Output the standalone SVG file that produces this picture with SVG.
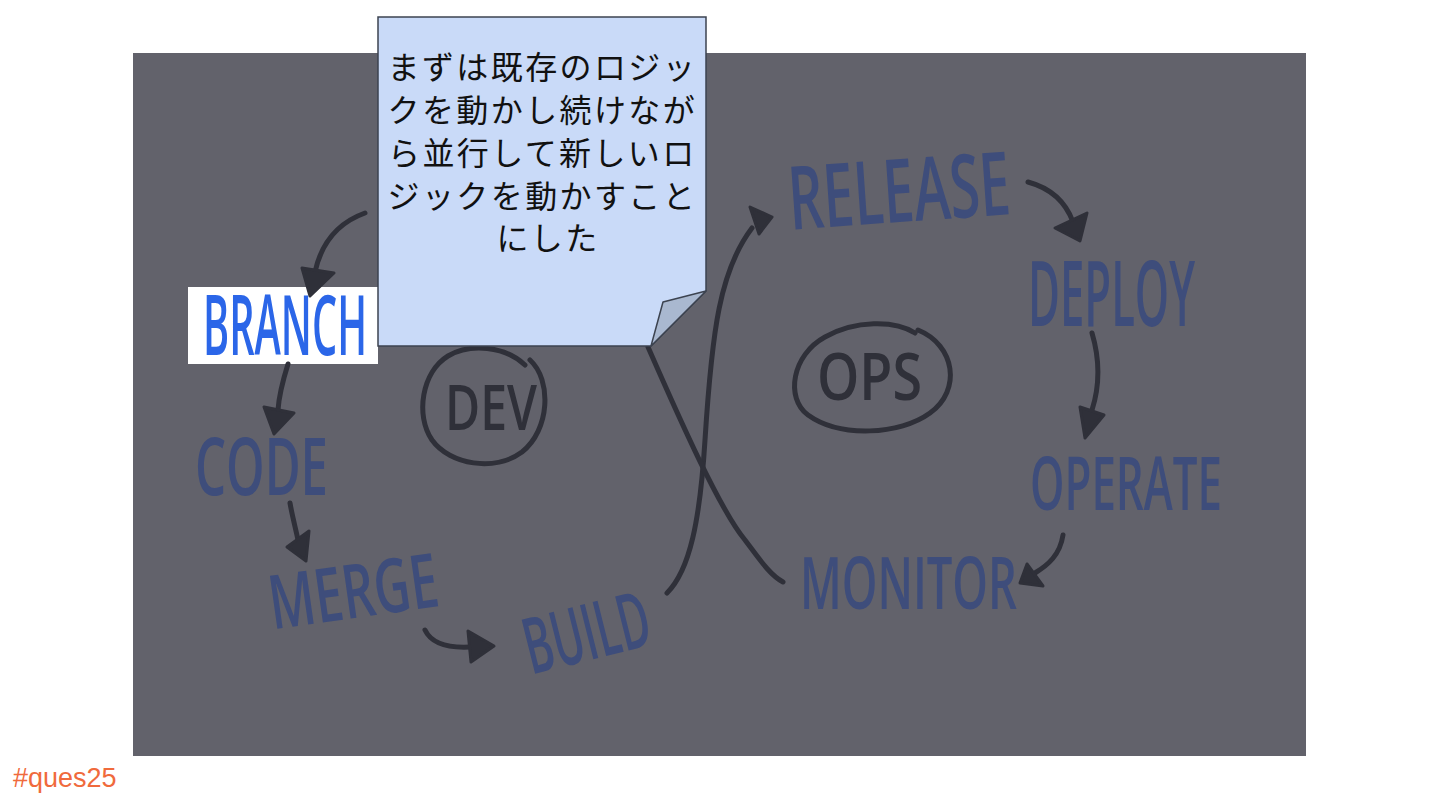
<svg xmlns="http://www.w3.org/2000/svg" width="1440" height="810" viewBox="0 0 1440 810">
  <style>
    .lbl { font-family: "Open Sans", "Liberation Sans", sans-serif; font-weight: 600; fill: #3e4d7b; }
    .dark { font-family: "Open Sans", "Liberation Sans", sans-serif; font-weight: 600; fill: #2f3039; }
    .ln { fill: none; stroke: #2f3039; stroke-width: 5; stroke-linecap: round; stroke-linejoin: round; }
    .hd { fill: #2f3039; stroke: #2f3039; stroke-width: 3; stroke-linejoin: round; }
    .note { font-family: "Liberation Sans", "Noto Sans CJK JP", sans-serif; font-size: 32px; fill: #111111; letter-spacing: 2.4px; }
  </style>
  <rect width="1440" height="810" fill="#ffffff"/>
  <rect id="board" x="133" y="53" width="1173" height="703" fill="#62626b"/>

  <g id="dev">
    <path class="ln" d="M530,360 C552,380 550,430 522,452 C495,472 450,465 432,440 C415,415 422,372 448,356 C470,343 505,346 525,365"/>
    <text class="dark" x="445" y="430" font-size="64" textLength="92" lengthAdjust="spacingAndGlyphs">DEV</text>
  </g>
  <g id="ops">
    <path class="ln" d="M918,330 C955,345 962,390 930,413 C900,435 840,438 808,415 C785,398 792,355 825,337 C855,320 895,320 915,333"/>
    <text class="dark" x="817" y="400" font-size="66" textLength="105" lengthAdjust="spacingAndGlyphs">OPS</text>
  </g>

  <g id="branch">
    <rect x="188" y="287" width="190" height="77" fill="#ffffff"/>
    <text x="203" y="355" font-size="83" textLength="164" lengthAdjust="spacingAndGlyphs" font-family="Open Sans, Liberation Sans, sans-serif" font-weight="600" fill="#2b66e8">BRANCH</text>
  </g>
  <g id="code">
    <text class="lbl" x="195" y="495" font-size="79" textLength="133" lengthAdjust="spacingAndGlyphs">CODE</text>
  </g>
  <g id="merge">
    <text class="lbl" x="268" y="618" font-size="75" textLength="170" lengthAdjust="spacingAndGlyphs" transform="rotate(-8 353 590)">MERGE</text>
  </g>
  <g id="build">
    <text class="lbl" x="522" y="660" font-size="78" textLength="128" lengthAdjust="spacingAndGlyphs" transform="rotate(-14 587 630)">BUILD</text>
  </g>
  <g id="release">
    <text class="lbl" x="788" y="222" font-size="88" textLength="222" lengthAdjust="spacingAndGlyphs" transform="rotate(-4 899 190)">RELEASE</text>
  </g>
  <g id="deploy">
    <text class="lbl" x="1028" y="326" font-size="90" textLength="167" lengthAdjust="spacingAndGlyphs">DEPLOY</text>
  </g>
  <g id="operate">
    <text class="lbl" x="1030" y="510" font-size="74" textLength="192" lengthAdjust="spacingAndGlyphs">OPERATE</text>
  </g>
  <g id="monitor">
    <text class="lbl" x="800" y="609" font-size="72" textLength="217" lengthAdjust="spacingAndGlyphs">MONITOR</text>
  </g>

  <g id="connectors">
    <path class="ln" d="M365,213 C340,222 322,240 315,272"/>
    <path class="hd" d="M302,268 L334,273 L310,296 Z"/>
    <path class="ln" d="M288,364 C283,380 279,395 278,410"/>
    <path class="hd" d="M264,407 L294,413 L274,434 Z"/>
    <path class="ln" d="M290,503 C292,515 296,530 298,540"/>
    <path class="hd" d="M287,547 L309,531 L306,561 Z"/>
    <path class="ln" d="M425,630 C432,645 450,648 470,647"/>
    <path class="hd" d="M468,631 L471,662 L494,646 Z"/>
    <path class="ln" d="M667,593 C690,570 700,520 705,440 C712,330 720,270 752,228"/>
    <path class="hd" d="M750,207 L759,234 L772,217 Z"/>
    <path class="ln" d="M648,347 C680,420 720,510 745,540 C760,560 770,575 783,582"/>
    <path class="ln" d="M1028,182 C1050,188 1065,200 1073,222"/>
    <path class="hd" d="M1055,228 L1087,213 L1080,241 Z"/>
    <path class="ln" d="M1092,333 C1100,360 1100,385 1092,410"/>
    <path class="hd" d="M1080,407 L1104,415 L1085,438 Z"/>
    <path class="ln" d="M1063,535 C1060,555 1048,565 1035,573"/>
    <path class="hd" d="M1027,564 L1043,586 L1020,583 Z"/>
  </g>

  <g id="sticky-note">
    <path d="M378,17 L706,17 L706,291 L651,346 L378,346 Z" fill="#c9daf8" stroke="#3c4350" stroke-width="1.5"/>
    <path d="M706,291 L663,302 L651,346 Z" fill="#a9b8d0" stroke="#3c4350" stroke-width="1.5" stroke-linejoin="round"/>
    <text class="note" text-anchor="middle">
      <tspan x="548" y="79">まずは既存のロジッ</tspan>
      <tspan x="548" y="122">クを動かし続けなが</tspan>
      <tspan x="548" y="165">ら並行して新しいロ</tspan>
      <tspan x="548" y="208">ジックを動かすこと</tspan>
      <tspan x="548" y="250">にした</tspan>
    </text>
  </g>

  <text id="tag" x="13" y="787" font-family="Liberation Sans, Arial, sans-serif" font-size="27" fill="#f06a3c">#ques25</text>
</svg>
